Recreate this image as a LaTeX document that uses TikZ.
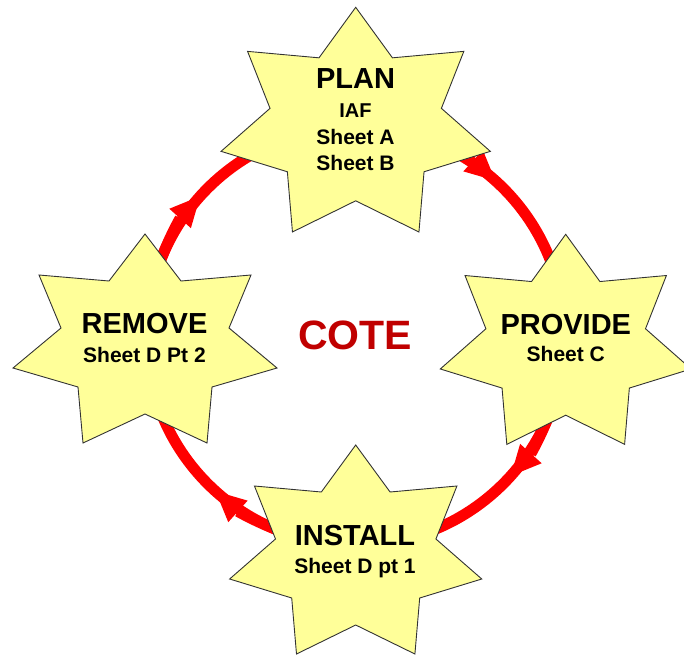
\documentclass[tikz,border=0pt]{standalone}
\usepackage{fontspec}
\setmainfont{Liberation Sans}
\usetikzlibrary{arrows.meta}
\definecolor{starfill}{HTML}{FFFF99}
\definecolor{ringred}{HTML}{FF0000}
\definecolor{cotered}{HTML}{C00000}
\begin{document}
\begin{tikzpicture}[x=1pt,y=-1pt,
  starshape/.style={fill=starfill, draw=black!80, line width=0.9pt, line join=miter},
  ring/.style={draw=ringred, line width=11pt},
  ringtip/.style={draw=ringred, line width=11pt,
    -{Triangle[length=30pt,width=29pt,line width=0pt]}},
  title/.style={font=\bfseries\fontsize{29}{29}\selectfont, anchor=base, inner sep=0pt},
  sub/.style={font=\bfseries\fontsize{21}{21}\selectfont, anchor=base, inner sep=0pt},
  star7/.pic={
    \path[starshape] (0,0) -- (36,47) -- (106,41) -- (84,94) -- (132,134)
      -- (67,153) -- (62,209) -- (0,180) -- (-62,209) -- (-67,153)
      -- (-132,134) -- (-84,94) -- (-106,41) -- (-36,47) -- cycle;
  }
]
\useasboundingbox (0,0) rectangle (684,655);

% the cycle ring with its four clockwise arrowheads
\coordinate (hub) at (355.5,336);
\draw[ring] (hub) circle[radius=209];
\foreach \a in {-138,-48,42,132}{
  \draw[ringtip] (hub) ++(\a-25:209) arc[start angle=\a-25, end angle=\a, radius=209];
}

% stars (placed by their top point)
\pic[xscale=1.02, yscale=1.075] at (355.7,7.3) {star7};
\pic[xscale=0.95, yscale=1.005] at (565.7,234.3) {star7};
\pic[xscale=0.955, yscale=1.0] at (355.7,445) {star7};
\pic at (145,234) {star7};

% labels
\node[title] (plan) at (355.5,88.3) {PLAN};
\node[sub, font=\bfseries\fontsize{20}{20}\selectfont] (iaf) at (355.5,117.3) {IAF};
\node[sub] (sheetA) at (355.5,144.3) {Sheet A};
\node[sub] (sheetB) at (355.5,171) {Sheet B};

\node[title] (provide) at (565.8,334.3) {PROVIDE};
\node[sub] (sheetC) at (565.8,361.7) {Sheet C};

\node[title] (install) at (355,545) {INSTALL};
\node[sub] (sheetD1) at (355,573.3) {Sheet D pt 1};

\node[title] (remove) at (144.5,333.3) {REMOVE};
\node[sub] (sheetD2) at (144.5,362.7) {Sheet D Pt 2};

\node[anchor=base, inner sep=0pt, text=cotered,
  font=\bfseries\fontsize{41}{41}\selectfont] (cote) at (355,349.3) {COTE};
\end{tikzpicture}
\end{document}
